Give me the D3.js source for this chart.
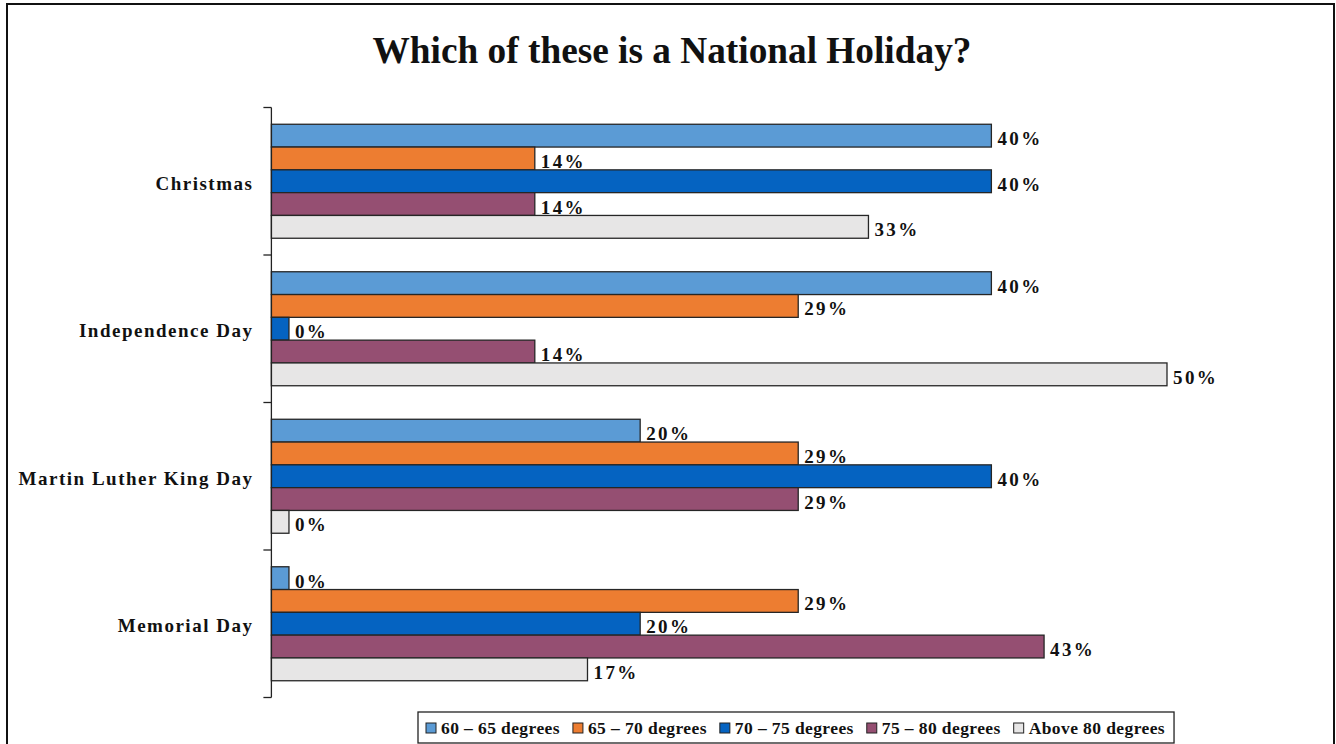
<!DOCTYPE html>
<html>
<head>
<meta charset="utf-8">
<script src="https://cdn.jsdelivr.net/npm/d3@7"></script>
<style>
  html, body { margin: 0; padding: 0; background: #fff; }
  svg { display: block; }
  text { font-family: "Liberation Serif", "Times New Roman", serif; font-weight: bold; fill: #111; }
</style>
</head>
<body>
<svg id="chart" width="1336" height="744"></svg>
<script>
// Survey answers by holiday, one series per temperature range
const categories = ["Christmas", "Independence Day", "Martin Luther King Day", "Memorial Day"];
const seriesNames = ["60 – 65 degrees", "65 – 70 degrees", "70 – 75 degrees", "75 – 80 degrees", "Above 80 degrees"];
const seriesColors = ["#5B9BD5", "#ED7D31", "#0563C1", "#954F72", "#E7E6E6"];
const values60to65 = [40, 40, 20, 0];
const values65to70 = [14, 29, 29, 29];
const values70to75 = [40, 0, 40, 20];
const values75to80 = [14, 14, 29, 43];
const valuesAbove80 = [33, 50, 0, 17];
const seriesValues = [values60to65, values65to70, values70to75, values75to80, valuesAbove80];
const titleText = "Which of these is a National Holiday?";

const svg = d3.select("#chart");

// Outer chart frame
svg.append("rect")
  .attr("x", 7).attr("y", 4).attr("width", 1327).attr("height", 800)
  .attr("fill", "none").attr("stroke", "#111").attr("stroke-width", 2);

// Title
svg.append("text")
  .attr("x", 672).attr("y", 63)
  .attr("text-anchor", "middle")
  .style("font-size", "37.3px")
  .text(titleText);

// Scales: value axis starts just below zero, bars grow from the axis
const x = d3.scaleLinear().domain([-1, 60]).range([271.4, 1342.6]);
const y = d3.scaleBand().domain(categories).range([107.5, 697.5]).paddingInner(0).paddingOuter(0);
const ySeries = d3.scaleBand().domain(d3.range(seriesNames.length)).range([0, y.bandwidth()])
  .paddingInner(0).paddingOuter(0.735);

// Bars and value labels
const groups = svg.append("g").selectAll("g")
  .data(categories)
  .join("g")
  .attr("transform", d => `translate(0,${y(d)})`);

groups.each(function (cat, ci) {
  const g = d3.select(this);
  const rows = seriesValues.map((vals, si) => ({ si, v: vals[ci] }));
  g.selectAll("rect")
    .data(rows)
    .join("rect")
    .attr("x", x.range()[0])
    .attr("y", d => ySeries(d.si))
    .attr("width", d => x(d.v) - x.range()[0])
    .attr("height", ySeries.bandwidth())
    .attr("fill", d => seriesColors[d.si])
    .attr("stroke", "#262626")
    .attr("stroke-width", 1.3);
  g.selectAll("text")
    .data(rows)
    .join("text")
    .attr("x", d => x(d.v) + 6)
    .attr("y", d => ySeries(d.si) + ySeries.bandwidth() / 2)
    .attr("dy", "0.5em")
    .style("font-size", "19px")
    .style("letter-spacing", "2.4px")
    .text(d => d.v + "%");
});

// Category axis with ticks between groups
const axis = d3.axisLeft(y).tickSize(0).tickPadding(18).tickSizeOuter(0);
const axisG = svg.append("g").attr("transform", `translate(${x.range()[0]},0)`).call(axis);
axisG.select(".domain").remove();
axisG.selectAll("text")
  .attr("dy", "0.45em")
  .style("font-family", "'Liberation Serif', 'Times New Roman', serif")
  .style("font-weight", "bold")
  .style("font-size", "19px")
  .style("letter-spacing", "1.5px")
  .attr("fill", "#111");

const boundaries = categories.map(c => y(c)).concat([y.range()[1]]);
svg.append("line")
  .attr("x1", x.range()[0]).attr("x2", x.range()[0])
  .attr("y1", y.range()[0]).attr("y2", y.range()[1])
  .attr("stroke", "#222").attr("stroke-width", 1.3);
svg.append("g").selectAll("line")
  .data(boundaries)
  .join("line")
  .attr("x1", x.range()[0] - 8).attr("x2", x.range()[0])
  .attr("y1", d => d).attr("y2", d => d)
  .attr("stroke", "#222").attr("stroke-width", 1.3);

// Legend
const legend = svg.append("g");
const legendBox = legend.append("rect")
  .attr("fill", "#fff").attr("stroke", "#222").attr("stroke-width", 1.3);
let cursor = 426;
seriesNames.forEach((name, i) => {
  legend.append("rect")
    .attr("x", cursor).attr("y", 723).attr("width", 10).attr("height", 10)
    .attr("fill", seriesColors[i]).attr("stroke", "#222").attr("stroke-width", 1);
  const t = legend.append("text")
    .attr("x", cursor + 15).attr("y", 734)
    .style("font-size", "17.5px")
    .style("letter-spacing", "0.4px")
    .text(name);
  cursor += 15 + t.node().getComputedTextLength() + 13;
});
legendBox.attr("x", 418).attr("y", 712).attr("width", cursor - 13 + 9 - 418).attr("height", 31);
</script>
</body>
</html>
